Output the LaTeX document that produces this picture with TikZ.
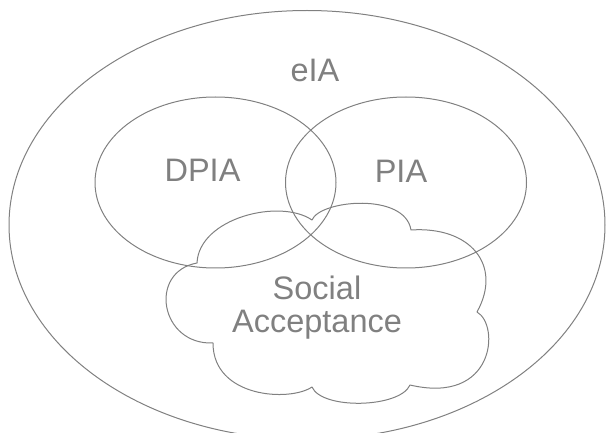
\documentclass[tikz,border=0pt]{standalone}
\usepackage{fontspec}
\setmainfont{Liberation Sans}
\usepackage{tikz}
\definecolor{venngray}{RGB}{128,128,128}
\tikzset{
  setline/.style={color=venngray,line width=1pt},
  setlabel/.style={text=venngray,inner sep=0pt,anchor=base,align=center,
    font=\fontsize{32.5}{34}\selectfont}
}

\begin{document}
\begin{tikzpicture}[line cap=round,line join=round,x=1pt,y=-1pt]
			\useasboundingbox (0,0) rectangle (606,433);
			% outer set and the two inner ones
			\draw [setline] (307,225) ellipse (298 and 214.5);
			\draw [setline] (215.5,182.5) ellipse (120.5 and 85.5);
			\draw [setline] (406,182.5) ellipse (120.5 and 85.5);
			% cloud, one bump after the other
			\draw [setline] (197,263)
			  .. controls (199,218) and (280,198) .. (312,220)
			  .. controls (320,200) and (405,192) .. (411,230)
			  .. controls (470,226) and (503,265) .. (477,312)
			  .. controls (500,325) and (495,405) .. (410,385)
			  .. controls (400,408) and (322,410) .. (312,387)
			  .. controls (290,402) and (213,398) .. (213,343)
			  .. controls (160,345) and (148,272) .. (197,263) -- cycle;
			\node [setlabel] (eia) at (315,82) {eIA};
			\node [setlabel] (dpia) at (202.5,182) {DPIA};
			\node [setlabel] (pia) at (401,182.5) {PIA};
			% base of a two-line label sits on its last line
			\node [setlabel] (social) at (317,333) {Social\\Acceptance};
\end{tikzpicture}
\end{document}
